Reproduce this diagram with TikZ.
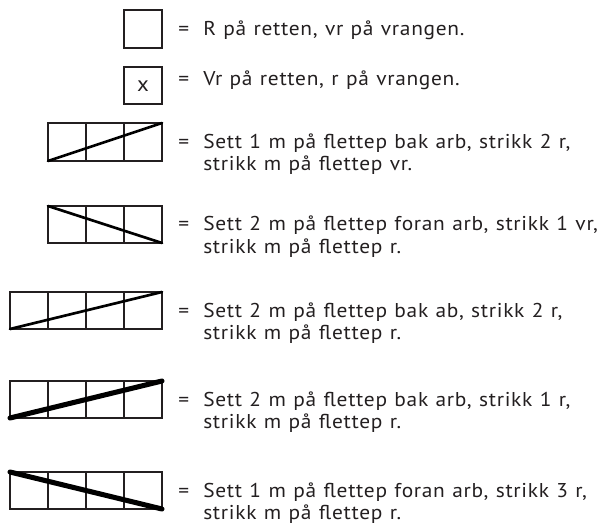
\documentclass[tikz,border=0pt]{standalone}
\usepackage{fontspec}
\setmainfont{PT Sans}
\newfontfamily\legendfont[FakeStretch=1.07,LetterSpace=3.5,WordSpace=1.15]{PT Sans}
\definecolor{ink}{HTML}{231F20}
\begin{document}
\begin{tikzpicture}[x=0.75pt,y=-0.75pt,
  cellgrid/.style={draw=ink,line width=1.1pt},
  midline/.style={draw=black,line width=2pt,line cap=round},
  thickline/.style={draw=black,line width=3.8pt,line cap=round},
  txt/.style={anchor=base west,inner sep=0pt,text=ink,font=\legendfont\fontsize{15}{17}\selectfont},
  eq/.style={anchor=base west,inner sep=0pt,text=ink,font=\legendfont\fontsize{15}{17}\selectfont}]
\useasboundingbox (0,0) rectangle (603,527);
% row 1
\draw[cellgrid] (124,10) rectangle (162,48);
\node[eq] (e1) at (178,35.5) {=};
\node[txt] (t1) at (203,35.5) {R på retten, vr på vrangen.};
% row 2
\draw[cellgrid] (124,67) rectangle (162,104);
\node[txt,anchor=center,font=\legendfont\fontsize{16}{18}\selectfont] (x2) at (143,86) {x};
\node[eq] (e2) at (178,86) {=};
\node[txt] (t2) at (203,86) {Vr på retten, r på vrangen.};
% row 3
\draw[cellgrid] (48,123) rectangle (162,161);
\foreach \x in {86,124} \draw[cellgrid] (\x,123) -- (\x,161);
\draw[midline] (48,161) -- (162,123);
\node[eq] (e3) at (178,148.5) {=};
\node[txt] (t3a) at (203,148.5) {Sett 1 m på flettep bak arb, strikk 2 r,};
\node[txt] (t3b) at (203,170.5) {strikk m på flettep vr.};
% row 4
\draw[cellgrid] (48,206) rectangle (162,243);
\foreach \x in {86,124} \draw[cellgrid] (\x,206) -- (\x,243);
\draw[midline] (48,206) -- (162,243);
\node[eq] (e4) at (178,231) {=};
\node[txt] (t4a) at (203,231) {Sett 2 m på flettep foran arb, strikk 1 vr,};
\node[txt] (t4b) at (203,253) {strikk m på flettep r.};
% row 5
\draw[cellgrid] (10,292) rectangle (162,329);
\foreach \x in {48,86,124} \draw[cellgrid] (\x,292) -- (\x,329);
\draw[midline] (10,329) -- (162,292);
\node[eq] (e5) at (178,317) {=};
\node[txt] (t5a) at (203,317) {Sett 2 m på flettep bak ab, strikk 2 r,};
\node[txt] (t5b) at (203,339) {strikk m på flettep r.};
% row 6
\draw[cellgrid] (10,381) rectangle (162,418);
\foreach \x in {48,86,124} \draw[cellgrid] (\x,381) -- (\x,418);
\draw[thickline] (10,418) -- (162,381);
\node[eq] (e6) at (178,406) {=};
\node[txt] (t6a) at (203,406) {Sett 2 m på flettep bak arb, strikk 1 r,};
\node[txt] (t6b) at (203,428) {strikk m på flettep r.};
% row 7
\draw[cellgrid] (10,472) rectangle (162,509);
\foreach \x in {48,86,124} \draw[cellgrid] (\x,472) -- (\x,509);
\draw[thickline] (10,472) -- (162,509);
\node[eq] (e7) at (178,497) {=};
\node[txt] (t7a) at (203,497) {Sett 1 m på flettep foran arb, strikk 3 r,};
\node[txt] (t7b) at (203,519) {strikk m på flettep r.};
\end{tikzpicture}
\end{document}
